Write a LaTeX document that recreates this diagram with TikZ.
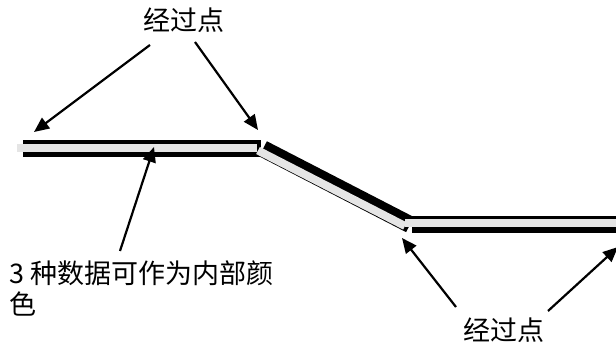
\documentclass[tikz,border=0pt]{standalone}
\usepackage{fontspec}
\setmainfont{Noto Sans CJK SC}
\usetikzlibrary{arrows.meta, positioning}

\begin{document}
\begin{tikzpicture}[x=1pt, y=-1pt,
    band/.style={line width=17pt, black},
    stripe/.style={line width=8pt, gray!20},
    arrow/.style={-{Triangle[length=15pt, width=13pt]}, line width=2.2pt},
    label/.style={font=\fontsize{27pt}{31pt}\selectfont, inner sep=0pt, align=left}
]
    \useasboundingbox (0,0) rectangle (616,347);

    % the three pieces of the line
    \draw[band] (23,148.5) -- (261,148.5);
    \draw[stripe] (17,148) -- (257,148);
    \draw[band] (263,148.8) -- (410,224.6);
    \draw[stripe] (258,150.5) -- (405,226);
    \draw[band] (411.7,225) -- (616,225);
    \draw[stripe] (405,223) -- (616,223);

    % labels
    \node[label] (passtop) at (183.5,20) {经过点};
    \node[label] (passbottom) at (504,330) {经过点};
    \node[label, anchor=north west] (inner) at (9,261) {3 种数据可作为内部颜\\色};

    % arrow ends
    \coordinate (tl) at (150,45);
    \coordinate (tr) at (195,42);
    \coordinate (bl) at (456,307);
    \coordinate (br) at (548,311);
    \coordinate (mid) at (120,251);
    \coordinate (p1) at (34,132);
    \coordinate (p2) at (258,130);
    \coordinate (p3) at (402,238);
    \coordinate (p4) at (618,247);
    \coordinate (p5) at (154,147);

    \draw[arrow] (tl) -- (p1);
    \draw[arrow] (tr) -- (p2);
    \draw[arrow] (bl) -- (p3);
    \draw[arrow] (br) -- (p4);
    \draw[arrow] (mid) -- (p5);
\end{tikzpicture}
\end{document}
